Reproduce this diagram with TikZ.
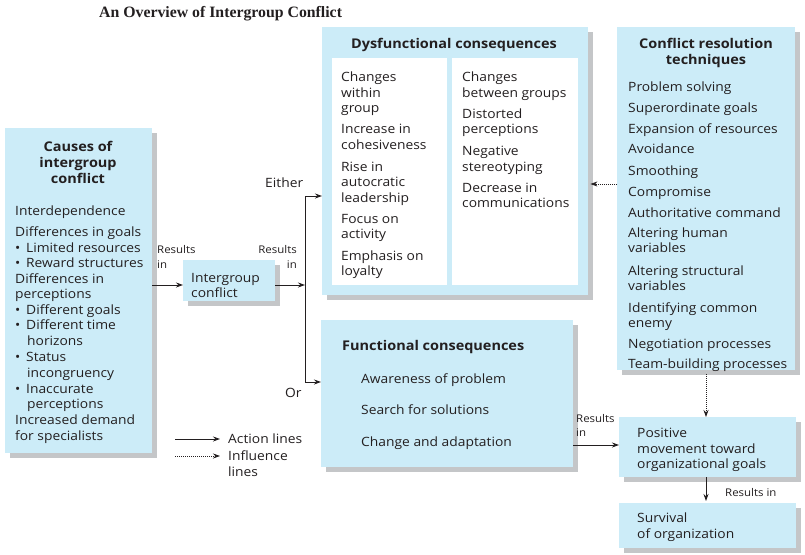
\documentclass[tikz,border=0pt]{standalone}
\usepackage{fontspec}
\setmainfont{Open Sans}[FakeStretch=1.08]
\newfontfamily\ttlfont{Liberation Serif}
\usetikzlibrary{shadows,arrows.meta}
\definecolor{boxblue}{RGB}{204,236,248}
\definecolor{shade}{RGB}{196,198,200}
\definecolor{ink}{RGB}{35,31,32}
\newcommand\bodysz{\fontsize{12.8}{16}\selectfont}
\newcommand\smallsz{\fontsize{10.6}{14}\selectfont}
\newcommand\headsz{\fontsize{13.4}{16}\selectfont\bfseries}
\begin{document}
\begin{tikzpicture}[x=1pt,y=-1pt,
  box/.style={rectangle, fill=boxblue, draw=none, inner sep=0, anchor=north west,
    drop shadow={shadow xshift=5pt, shadow yshift=-5pt, fill=shade, opacity=1}},
  panel/.style={rectangle, fill=white, draw=none, inner sep=0, anchor=north west},
  txt/.style={anchor=base west, inner sep=0, font=\bodysz, text=ink},
  head/.style={anchor=base, inner sep=0, font=\headsz, text=ink},
  headl/.style={anchor=base west, inner sep=0, font=\headsz, text=ink},
  lbl/.style={anchor=base west, inner sep=0, font=\smallsz, text=ink},
  lblr/.style={anchor=base east, inner sep=0, font=\smallsz, text=ink},
  arr/.style={draw=ink, line width=0.9pt, -{Stealth[length=7pt,width=5pt]}},
  plain/.style={draw=ink, line width=0.9pt},
  infl/.style={draw=ink, line width=0.8pt, dash pattern=on 1pt off 1pt, -{Stealth[length=7pt,width=5pt]}}
]
\useasboundingbox (0,0) rectangle (805,554);
\fill[white] (0,0) rectangle (805,554);

% title
\node[anchor=base west, inner sep=0, font=\ttlfont\fontsize{15.8}{18}\selectfont\bfseries, text=ink] (title) at (99,17) {An Overview of Intergroup Conflict};

% boxes
\node[box, minimum width=147pt, minimum height=325pt] (causes) at (5,128) {};
\node[box, minimum width=92pt, minimum height=41pt] (conflict) at (183,260) {};
\node[box, minimum width=266pt, minimum height=268pt] (dysf) at (322,27) {};
\node[panel, minimum width=115pt, minimum height=227pt] (dpl) at (332,58) {};
\node[panel, minimum width=126pt, minimum height=227pt] (dpr) at (452,58) {};
\node[box, minimum width=178pt, minimum height=343pt] (cr) at (617,27) {};
\node[box, minimum width=252pt, minimum height=147pt] (func) at (321,320) {};
\node[box, minimum width=177pt, minimum height=60pt] (pos) at (619,417) {};
\node[box, minimum width=177pt, minimum height=45pt] (surv) at (619,503) {};

% causes text
\node[head] (cah1) at (78,151) {Causes of};
\node[head] (cah2) at (78,167) {intergroup};
\node[head] (cah3) at (78,183) {conflict};
\node[txt] (ca0) at (15,215) {Interdependence};
\foreach[count=\i] \t/\x/\y in {Differences in goals/15/236, Limited resources/26/252,
  Reward structures/26/267, Differences in/15/283, perceptions/15/298,
  Different goals/26/314, Different time/26/329, horizons/27/345,
  Status/26/361, incongruency/27/377, Inaccurate/26/393, perceptions/27/408,
  Increased demand/15/424, for specialists/15/440}
  \node[txt] (ca\i) at (\x,\y) {\t};
\foreach[count=\i] \y in {252,267,314,329,361,393}
  \node[txt] (cb\i) at (15,\y) {•};

% intergroup conflict
\node[txt] (ic1) at (191,282) {Intergroup};
\node[txt] (ic2) at (191,297) {conflict};

% results in labels
\node[lbl] (r1a) at (157,253) {Results};
\node[lbl] (r1b) at (157,268) {in};
\node[lblr] (r2a) at (297,253) {Results};
\node[lblr] (r2b) at (297,268) {in};
\node[txt] (either) at (265,187) {Either};
\node[txt] (or) at (285,397) {Or};

% dysfunctional
\node[head] (dh) at (454,48) {Dysfunctional consequences};
\foreach[count=\i] \t/\y in {Changes/81, within/97, group/112, Increase in/133,
  cohesiveness/149, Rise in/171, autocratic/186, leadership/202, Focus on/223,
  activity/238, Emphasis on/260, loyalty/275}
  \node[txt] (dl\i) at (341,\y) {\t};
\foreach[count=\i] \t/\y in {Changes/81, between groups/97, Distorted/118,
  perceptions/133, Negative/155, stereotyping/171, Decrease in/192, communications/207}
  \node[txt] (dr\i) at (462,\y) {\t};

% conflict resolution
\node[head] (crh1) at (706,48) {Conflict resolution};
\node[head] (crh2) at (706,64) {techniques};
\foreach[count=\i] \t/\y in {Problem solving/91, Superordinate goals/112,
  Expansion of resources/133, Avoidance/153, Smoothing/175, Compromise/196,
  Authoritative command/217, Altering human/237, variables/252,
  Altering structural/275, variables/290, Identifying common/312, enemy/327,
  Negotiation processes/348, Team-building processes/368}
  \node[txt] (cr\i) at (628,\y) {\t};

% functional
\node[headl] (fh) at (342,350) {Functional consequences};
\node[txt] (f1) at (361,383) {Awareness of problem};
\node[txt] (f2) at (361,414) {Search for solutions};
\node[txt] (f3) at (361,446) {Change and adaptation};

% positive / survival
\node[txt] (p1) at (637,437) {Positive};
\node[txt] (p2) at (637,453) {movement toward};
\node[txt] (p3) at (637,468) {organizational goals};
\node[txt] (s1) at (637,522) {Survival};
\node[txt] (s2) at (637,538) {of organization};
\node[lbl] (r3a) at (576,422) {Results};
\node[lbl] (r3b) at (576,436) {in};
\node[lbl] (r4) at (725,496) {Results in};

% legend
\node[txt] (lg1) at (228,443) {Action lines};
\node[txt] (lg2) at (228,460) {Influence};
\node[txt] (lg3) at (228,476) {lines};
\coordinate (la1) at (175,439);
\coordinate (la2) at (220,439);
\coordinate (lb1) at (175,456);
\coordinate (lb2) at (220,456);
\draw[arr] (la1) -- (la2);
\draw[infl] (lb1) -- (lb2);

% connectors
\coordinate (j) at (305,285);
\coordinate (ey) at (305,196);
\coordinate (oy) at (305,382);
\draw[arr] (causes.east |- j) -- (conflict.west |- j);
\draw[arr] (conflict.east |- j) -- (j);
\draw[plain] (ey) -- (oy);
\draw[arr] (ey) -- (dysf.west |- ey);
\draw[arr] (oy) -- (func.west |- oy);
\coordinate (dy) at (600,184);
\draw[infl] (cr.west |- dy) -- ([xshift=2pt]dysf.east |- dy);
\coordinate (vx) at (706,400);
\draw[infl] ([yshift=-4pt]cr.south -| vx) -- (pos.north -| vx);
\coordinate (fy) at (600,445);
\draw[arr] (func.east |- fy) -- (pos.west |- fy);
\draw[arr] (pos.south -| vx) -- ([yshift=2pt]surv.north -| vx);
\end{tikzpicture}
\end{document}
